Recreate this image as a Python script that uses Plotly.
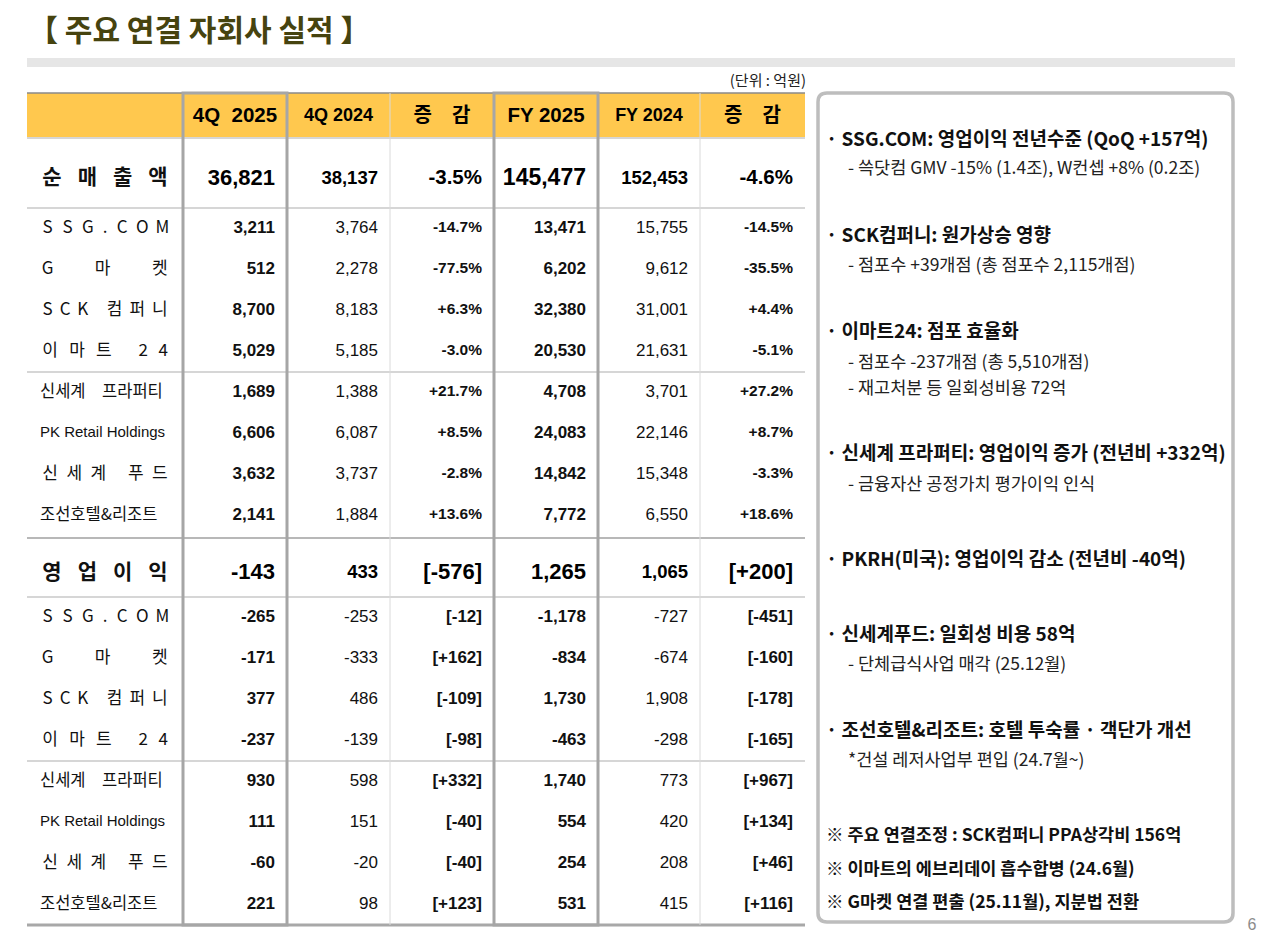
import plotly.graph_objects as go

# ---- data ----
title = "【 주요 연결 자회사 실적 】"
unit_note = "(단위 : 억원)"
page_no = "6"
header_labels = ["4Q  2025", "4Q 2024", "증\u3000감", "FY 2025", "FY 2024", "증\u3000감"]

sales_title = "순매출액"
op_title = "영업이익"
sales_total = [36821, 38137, -3.5, 145477, 152453, -4.6]
op_total = [-143, 433, -576, 1265, 1065, 200]

subsidiaries = ["SSG.COM", "G마켓", "SCK 컴퍼니", "이마트 24",
                "신세계\u3000프라퍼티", "PK Retail Holdings", "신세계 푸드", "조선호텔&리조트"]
distributed = ["SSG.COM", "G마켓", "SCK 컴퍼니", "이마트 24", "신세계 푸드"]

sales_4q25 = [3211, 512, 8700, 5029, 1689, 6606, 3632, 2141]
sales_4q24 = [3764, 2278, 8183, 5185, 1388, 6087, 3737, 1884]
sales_4q_chg = [-14.7, -77.5, 6.3, -3.0, 21.7, 8.5, -2.8, 13.6]
sales_fy25 = [13471, 6202, 32380, 20530, 4708, 24083, 14842, 7772]
sales_fy24 = [15755, 9612, 31001, 21631, 3701, 22146, 15348, 6550]
sales_fy_chg = [-14.5, -35.5, 4.4, -5.1, 27.2, 8.7, -3.3, 18.6]

op_4q25 = [-265, -171, 377, -237, 930, 111, -60, 221]
op_4q24 = [-253, -333, 486, -139, 598, 151, -20, 98]
op_4q_chg = [-12, 162, -109, -98, 332, -40, -40, 123]
op_fy25 = [-1178, -834, 1730, -463, 1740, 554, 254, 531]
op_fy24 = [-727, -674, 1908, -298, 773, 420, 208, 415]
op_fy_chg = [-451, -160, -178, -165, 967, 134, 46, 116]

note_lines = [
    "· SSG.COM: 영업이익 전년수준 (QoQ +157억)",
    "- 쓱닷컴 GMV -15% (1.4조), W컨셉 +8% (0.2조)",
    "· SCK컴퍼니: 원가상승 영향",
    "- 점포수 +39개점 (총 점포수 2,115개점)",
    "· 이마트24: 점포 효율화",
    "- 점포수 -237개점 (총 5,510개점)",
    "- 재고처분 등 일회성비용 72억",
    "· 신세계 프라퍼티: 영업이익 증가 (전년비 +332억)",
    "- 금융자산 공정가치 평가이익 인식",
    "· PKRH(미국): 영업이익 감소 (전년비 -40억)",
    "· 신세계푸드: 일회성 비용 58억",
    "- 단체급식사업 매각 (25.12월)",
    "· 조선호텔&리조트: 호텔 투숙률 · 객단가 개선",
    "*건설 레저사업부 편입 (24.7월~)",
    "※ 주요 연결조정 : SCK컴퍼니 PPA상각비 156억",
    "※ 이마트의 에브리데이 흡수합병 (24.6월)",
    "※ G마켓 연결 편출 (25.11월), 지분법 전환",
]

# ---- layout constants ----
W, H = 1280, 942
NUM_FONT = "Liberation Sans, Arial, sans-serif"
KR_FONT = "Noto Sans CJK KR, sans-serif"
HEADER_FILL = "#FFC84E"
col_edges = [27, 183, 287, 390, 494, 598, 700, 805]
header_top, header_bot = 93, 138
sales_band = (138, 208)
sub_h = 41
op_band = (538, 597)
table_bot = 925
label_x0, label_x1 = 42, 168

note_y = [141, 170, 237, 267, 333, 364, 390, 455, 486, 561, 636, 666, 732, 762, 837, 871, 904]
note_kind = ["h", "s", "h", "s", "h", "s", "s", "h", "s", "h", "h", "s", "h", "s", "n", "n", "n"]

fig = go.Figure()


def add_text(xs, ys, texts, size, pos="middle left", family=NUM_FONT, color="#000", bold=False):
    fig.add_trace(go.Scatter(
        x=xs, y=ys, mode="text", textposition=pos,
        text=[f"<b>{t}</b>" if bold else t for t in texts],
        textfont=dict(size=size, color=color, family=family),
        hoverinfo="skip", showlegend=False, cliponaxis=False,
    ))


def char_w(c, size):
    if "\uac00" <= c <= "\ud7a3":
        return size * 0.95
    if c in " .":
        return size * 0.3
    if c.isdigit():
        return size * 0.55
    return size * 0.65


def add_spread(label, y, size, bold=False):
    # distributed alignment across the label cell
    ws = [char_w(c, size) for c in label]
    gap = (label_x1 - label_x0 - sum(ws)) / (len(label) - 1)
    xs, ys, ts = [], [], []
    pos = label_x0
    for c, w in zip(label, ws):
        if c != " ":
            xs.append(pos + w / 2)
            ys.append(y)
            ts.append(c)
        pos += w + gap
    add_text(xs, ys, ts, size, pos="middle center", family=KR_FONT, color="#111", bold=bold)


def fmt(v, kind):
    if kind == "pct":
        return f"{v:+.1f}%"
    if kind == "diff":
        return f"[{v:+,}]"
    return f"{v:,}"


# ---- shapes: title bar, header, grid ----
shapes = []
shapes.append(dict(type="rect", x0=27, x1=1235, y0=58, y1=67, fillcolor="#E6E6E6", line_width=0, layer="below"))
shapes.append(dict(type="rect", x0=col_edges[0], x1=col_edges[-1], y0=header_top, y1=header_bot,
                   fillcolor=HEADER_FILL, line_width=0, layer="below"))
shapes.append(dict(type="line", x0=col_edges[0], x1=col_edges[-1], y0=header_top, y1=header_top,
                   line=dict(color="#8A8A8A", width=1.5)))

sub_top_sales = sales_band[1]
sub_top_op = op_band[1]
light_lines = [header_bot, sales_band[1], sub_top_sales + 4 * sub_h, op_band[1], sub_top_op + 4 * sub_h]
for yy in light_lines:
    shapes.append(dict(type="line", x0=col_edges[0], x1=col_edges[-1], y0=yy, y1=yy,
                       line=dict(color="#D6D6D6", width=2)))
shapes.append(dict(type="line", x0=col_edges[0], x1=col_edges[-1], y0=op_band[0], y1=op_band[0],
                   line=dict(color="#A0A0A0", width=1.5)))
shapes.append(dict(type="line", x0=col_edges[0], x1=col_edges[-1], y0=table_bot, y1=table_bot,
                   line=dict(color="#A8A8A8", width=3)))
for xe in (col_edges[3], col_edges[6]):
    shapes.append(dict(type="line", x0=xe, x1=xe, y0=header_top, y1=table_bot,
                       line=dict(color="#DADADA", width=1)))
for c in (1, 4):
    shapes.append(dict(type="rect", x0=col_edges[c], x1=col_edges[c + 1], y0=header_top, y1=table_bot,
                       line=dict(color="#A6A6A6", width=3)))

# right note panel with rounded corners
px0, py0, px1, py1, r = 818, 93, 1233, 922, 9
panel = (f"M {px0 + r},{py0} L {px1 - r},{py0} Q {px1},{py0} {px1},{py0 + r} "
         f"L {px1},{py1 - r} Q {px1},{py1} {px1 - r},{py1} L {px0 + r},{py1} "
         f"Q {px0},{py1} {px0},{py1 - r} L {px0},{py0 + r} Q {px0},{py0} {px0 + r},{py0} Z")
shapes.append(dict(type="path", path=panel, line=dict(color="#BDBDBD", width=3.5), fillcolor="rgba(0,0,0,0)"))

# ---- title & header text ----
add_text([28], [33], [title], 30, pos="middle right", family=KR_FONT, color="#46430F", bold=True)
add_text([806], [82], [unit_note], 15, pos="middle left", family=KR_FONT, color="#222")
add_text([1252], [926], [page_no], 16, pos="middle center", family=NUM_FONT, color="#8C8C8C")

hdr_y = (header_top + header_bot) / 2 + 1
hdr_fonts = [NUM_FONT, NUM_FONT, KR_FONT, NUM_FONT, NUM_FONT, KR_FONT]
hdr_sizes = [20.5, 18, 20, 20.5, 18, 20]
for i, lab in enumerate(header_labels):
    xc = (col_edges[i + 1] + col_edges[i + 2]) / 2
    add_text([xc], [hdr_y], [lab], hdr_sizes[i], pos="middle center", family=hdr_fonts[i], bold=True)

# ---- table body ----
sales_cols = [sales_4q25, sales_4q24, sales_4q_chg, sales_fy25, sales_fy24, sales_fy_chg]
op_cols = [op_4q25, op_4q24, op_4q_chg, op_fy25, op_fy24, op_fy_chg]
sales_kinds = ["num", "num", "pct", "num", "num", "pct"]
op_kinds = ["num", "num", "diff", "num", "num", "diff"]
col_bold = [True, False, True, True, False, True]

sections = [
    (sales_title, sales_total, sales_cols, sales_kinds, sales_band, [22, 18.5, 20.5, 23, 18.5, 20.5], [17, 17, 15.5, 17, 17, 15.5]),
    (op_title, op_total, op_cols, op_kinds, op_band, [22, 18.5, 22, 22, 18.5, 22], [17, 17, 17, 17, 17, 17]),
]
for name, totals, cols, kinds, band, main_sizes, sub_sizes in sections:
    y_main = (band[0] + band[1]) / 2 + 6
    add_spread(name, y_main, 21, bold=True)
    sub_y = [band[1] + sub_h * (i + 0.5) for i in range(len(subsidiaries))]
    for c in range(6):
        x_r = col_edges[c + 2] - 12
        add_text([x_r], [y_main], [fmt(totals[c], kinds[c])], main_sizes[c], bold=True)
        add_text([x_r] * len(sub_y), sub_y, [fmt(v, kinds[c]) for v in cols[c]],
                 sub_sizes[c], bold=col_bold[c], color="#111")
    for lab, yy in zip(subsidiaries, sub_y):
        if lab in distributed:
            add_spread(lab, yy, 17)
        elif lab.startswith("PK"):
            add_text([label_x0 - 2], [yy], [lab], 15, pos="middle right", family=NUM_FONT, color="#111")
        else:
            add_text([label_x0 - 2], [yy], [lab], 16.5, pos="middle right", family=KR_FONT, color="#111")

# ---- right-hand notes ----
for txt, yy, kind in zip(note_lines, note_y, note_kind):
    if kind == "h":
        add_text([826], [yy], [txt], 19, pos="middle right", family=KR_FONT, color="#111", bold=True)
    elif kind == "n":
        add_text([826], [yy], [txt], 17.5, pos="middle right", family=KR_FONT, color="#111", bold=True)
    else:
        add_text([848], [yy], [txt], 17.5, pos="middle right", family=KR_FONT, color="#222")

fig.update_layout(
    width=W, height=H,
    margin=dict(l=0, r=0, t=0, b=0),
    paper_bgcolor="white", plot_bgcolor="white",
    xaxis=dict(range=[0, W], visible=False, fixedrange=True),
    yaxis=dict(range=[H, 0], visible=False, fixedrange=True),
    shapes=shapes,
)

fig.write_html("out.html", config={"displayModeBar": False},
               post_script="document.body.style.margin='0';")
